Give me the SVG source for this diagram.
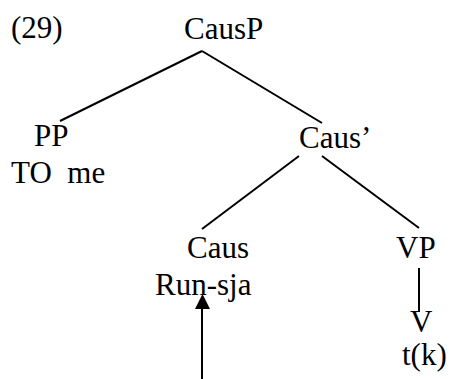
<svg xmlns="http://www.w3.org/2000/svg" width="451" height="379" viewBox="0 0 451 379">
<style>
.e { stroke: #000; stroke-width: 2; fill: none; }
</style>
<rect width="451" height="379" fill="#fff"/>
<text id="label" x="11" y="38" font-family="Liberation Serif" font-size="31">(29)</text>
<g id="causp"><text x="184" y="39" font-family="Liberation Serif" font-size="31">CausP</text></g>
<g id="pp"><text x="34" y="146" font-family="Liberation Serif" font-size="31">PP</text><text x="11" y="183" font-family="Liberation Serif" font-size="31" xml:space="preserve">TO  me</text></g>
<g id="causbar"><text x="299" y="148" font-family="Liberation Serif" font-size="31">Caus&#8217;</text></g>
<g id="caus"><text x="187" y="258" font-family="Liberation Serif" font-size="31">Caus</text><text x="155" y="295" font-family="Liberation Serif" font-size="31">Run-sja</text></g>
<g id="vp"><text x="396" y="258" font-family="Liberation Serif" font-size="31">VP</text></g>
<g id="v"><text x="410" y="332" font-family="Liberation Serif" font-size="31">V</text><text x="402" y="365" font-family="Liberation Serif" font-size="31">t(k)</text></g>
<g id="connectors">
<line class="e" x1="202" y1="51" x2="60" y2="121"/>
<line class="e" x1="202" y1="51" x2="322" y2="123"/>
<line class="e" x1="299" y1="156" x2="202" y2="229"/>
<line class="e" x1="322" y1="156" x2="419" y2="228"/>
<line class="e" x1="419" y1="268" x2="419" y2="312"/>
<line class="e" x1="202" y1="379" x2="202" y2="308"/>
<path d="M195,309 L202.5,294 L210,309 Z" fill="#000"/>
</g>
</svg>
